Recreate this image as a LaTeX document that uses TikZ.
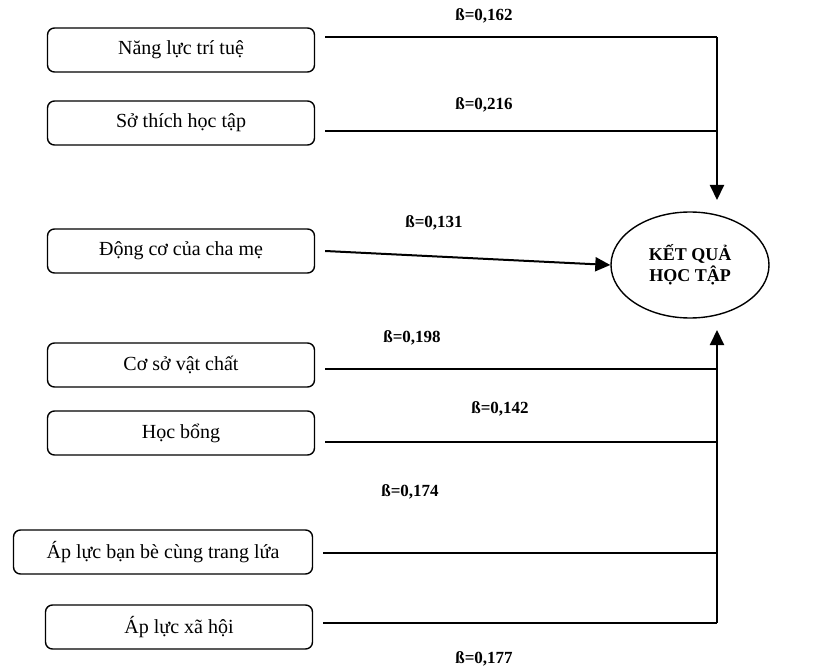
\documentclass[tikz,border=0pt]{standalone}
\usepackage{fontspec}
\setmainfont{Liberation Serif}
\usetikzlibrary{shapes.geometric, arrows.meta, calc}
\tikzstyle{cause} = [rectangle, rounded corners=7pt, minimum width=267pt, minimum height=44pt, text centered, draw=black, line width=1.4pt, font=\fontsize{20}{24}\selectfont]
\tikzstyle{wide} = [minimum width=299pt]
\tikzstyle{outcome} = [ellipse, minimum width=158pt, minimum height=106pt, align=center, draw=black, line width=1.4pt, font=\bfseries\fontsize{18}{21}\selectfont]
\tikzstyle{coef} = [font=\bfseries\fontsize{17}{20}\selectfont]
\tikzstyle{conn} = [line width=2pt]
\tikzstyle{arrow} = [line width=2pt, -{Triangle[width=14pt,length=15pt]}]

\begin{document}
\begin{tikzpicture}[x=1pt, y=-1pt]
\useasboundingbox (0,0) rectangle (817,671);
\node (c1) [cause] at (181,50) {Năng lực trí tuệ};
\node (c2) [cause, below of=c1, node distance=73pt] {Sở thích học tập};
\node (c3) [cause, below of=c2, node distance=128pt] {Động cơ của cha mẹ};
\node (c4) [cause, below of=c3, node distance=114pt] {Cơ sở vật chất};
\node (c5) [cause, below of=c4, node distance=68pt] {Học bổng};
\node (c6) [cause, wide, below of=c5, node distance=119pt, xshift=-18pt] {Áp lực bạn bè cùng trang lứa};
\node (c7) [cause, below of=c5, node distance=194pt, xshift=-2pt] {Áp lực xã hội};
\node (res) [outcome] at (690,265) {KẾT QUẢ\\HỌC TẬP};
% join points on the vertical bar
\coordinate (j1) at (717,37);
\coordinate (j2) at (717,131);
\coordinate (tipA) at (717,200);
\coordinate (j4) at (717,369);
\coordinate (j5) at (717,442);
\coordinate (j6) at (717,553);
\coordinate (j7) at (717,623);
\coordinate (tipB) at (717,330);
\draw [conn] ($(j1 -| c1.east)+(10,0)$) -- (j1);
\draw [conn] ($(j2 -| c2.east)+(10,0)$) -- (j2);
\draw [conn] ($(j4 -| c4.east)+(10,0)$) -- (j4);
\draw [conn] ($(j5 -| c5.east)+(10,0)$) -- (j5);
\draw [conn] ($(j6 -| c6.east)+(10,0)$) -- (j6);
\draw [conn] ($(j7 -| c7.east)+(10,0)$) -- (j7);
\draw [arrow] (j1) -- (tipA);
\draw [arrow] (j7) -- (tipB);
\draw [arrow] ([xshift=10pt]c3.east) -- (res.west);
% coefficients
\node (b1) [coef] at (484,16) {ß=0,162};
\node (b2) [coef] at (484,105) {ß=0,216};
\node (b3) [coef] at (434,223) {ß=0,131};
\node (b4) [coef] at (412,338) {ß=0,198};
\node (b5) [coef] at (500,409) {ß=0,142};
\node (b6) [coef] at (410,492) {ß=0,174};
\node (b7) [coef] at (484,659) {ß=0,177};
\end{tikzpicture}
\end{document}
